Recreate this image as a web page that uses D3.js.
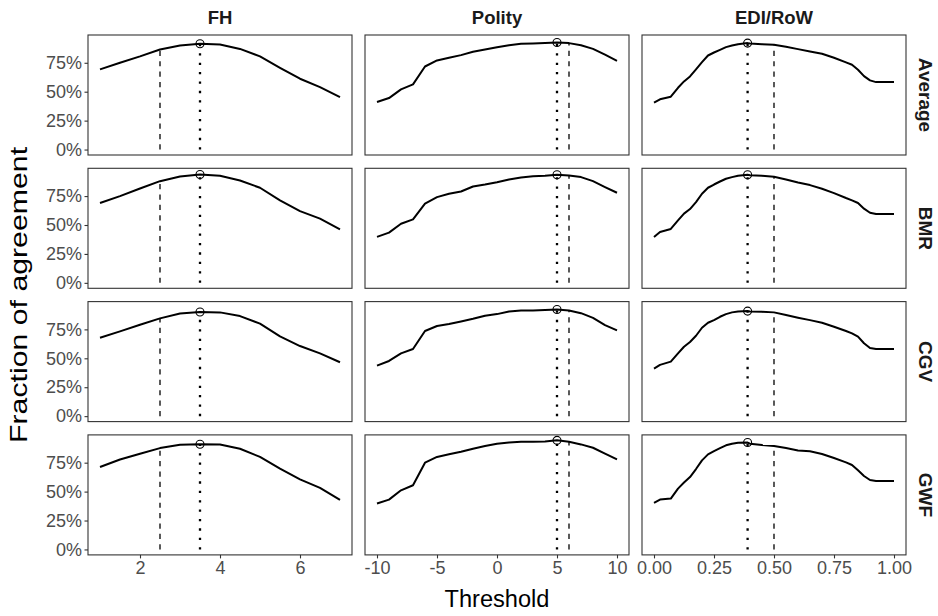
<!DOCTYPE html>
<html>
<head>
<meta charset="utf-8">
<script src="https://cdn.jsdelivr.net/npm/d3@7/dist/d3.min.js"></script>
<style>
  html, body { margin: 0; padding: 0; background: #fff; }
  svg { display: block; font-family: "Liberation Sans", Arial, Helvetica, sans-serif; }
</style>
</head>
<body>
<svg id="chart" width="938" height="616"></svg>
<script>
// Facet labels
const measures = ["FH", "Polity", "EDI/RoW"];
const datasets = ["Average", "BMR", "CGV", "GWF"];

// Thresholds evaluated for each measure
const fhThresholds = [1, 1.5, 2, 2.5, 3, 3.5, 4, 4.5, 5, 5.5, 6, 6.5, 7];
const polityThresholds = [-10, -9, -8, -7, -6, -5, -4, -3, -2, -1, 0, 1, 2, 3, 4, 5, 6, 7, 8, 9, 10];
const ediThresholds = [0, 0.025, 0.07, 0.1, 0.125, 0.15, 0.175, 0.2, 0.225, 0.25, 0.275, 0.3, 0.325, 0.35, 0.39,
  0.4, 0.45, 0.5, 0.55, 0.6, 0.65, 0.7, 0.75, 0.8, 0.825, 0.85, 0.875, 0.9, 0.925, 1.0];

// Conventional cut-offs (dashed lines)
const fhCutoff = 2.5;
const polityCutoff = 6;
const ediCutoff = 0.5;

// Fraction of agreement, FH
const fhAverage = [0.693, 0.750, 0.805, 0.865, 0.900, 0.914, 0.908, 0.870, 0.805, 0.707, 0.612, 0.540, 0.454];
const fhBMR     = [0.690, 0.750, 0.816, 0.879, 0.920, 0.937, 0.925, 0.885, 0.822, 0.713, 0.620, 0.555, 0.463];
const fhCGV     = [0.678, 0.733, 0.790, 0.845, 0.888, 0.900, 0.897, 0.865, 0.800, 0.690, 0.606, 0.543, 0.466];
const fhGWF     = [0.713, 0.778, 0.827, 0.876, 0.905, 0.909, 0.908, 0.870, 0.800, 0.698, 0.606, 0.532, 0.428];

// Fraction of agreement, Polity
const polityAverage = [0.411, 0.445, 0.520, 0.563, 0.718, 0.770, 0.793, 0.816, 0.845, 0.865, 0.885,
  0.902, 0.914, 0.917, 0.920, 0.925, 0.920, 0.902, 0.870, 0.820, 0.767];
const polityBMR = [0.397, 0.434, 0.511, 0.549, 0.684, 0.741, 0.770, 0.790, 0.833, 0.850, 0.870,
  0.894, 0.910, 0.922, 0.925, 0.934, 0.928, 0.914, 0.879, 0.828, 0.779];
const polityCGV = [0.437, 0.477, 0.543, 0.580, 0.736, 0.779, 0.796, 0.819, 0.842, 0.868, 0.882,
  0.905, 0.914, 0.914, 0.917, 0.922, 0.914, 0.890, 0.850, 0.787, 0.741];
const polityGWF = [0.397, 0.431, 0.511, 0.555, 0.750, 0.800, 0.822, 0.845, 0.871, 0.894, 0.914,
  0.925, 0.931, 0.931, 0.934, 0.943, 0.931, 0.908, 0.879, 0.828, 0.779];

// Fraction of agreement, EDI/RoW
const ediAverage = [0.405, 0.434, 0.457, 0.534, 0.589, 0.632, 0.693, 0.756, 0.813, 0.839, 0.862, 0.885, 0.900,
  0.911, 0.920, 0.917, 0.911, 0.905, 0.888, 0.868, 0.848, 0.828, 0.793, 0.753, 0.733, 0.690, 0.635, 0.598, 0.583, 0.583];
const ediBMR = [0.397, 0.440, 0.466, 0.540, 0.598, 0.638, 0.698, 0.770, 0.822, 0.850, 0.876, 0.900, 0.914,
  0.925, 0.934, 0.931, 0.925, 0.917, 0.894, 0.868, 0.845, 0.813, 0.776, 0.733, 0.713, 0.690, 0.641, 0.606, 0.595, 0.595];
const ediCGV = [0.411, 0.443, 0.471, 0.543, 0.600, 0.641, 0.695, 0.764, 0.807, 0.830, 0.859, 0.882, 0.897,
  0.905, 0.908, 0.905, 0.902, 0.897, 0.874, 0.851, 0.830, 0.807, 0.773, 0.736, 0.716, 0.687, 0.630, 0.589, 0.580, 0.580];
const ediGWF = [0.402, 0.431, 0.440, 0.526, 0.578, 0.626, 0.695, 0.770, 0.822, 0.850, 0.876, 0.900, 0.914,
  0.922, 0.924, 0.914, 0.902, 0.894, 0.876, 0.856, 0.848, 0.825, 0.790, 0.753, 0.730, 0.684, 0.635, 0.600, 0.592, 0.592];

// Tick labels use a plain hyphen for negatives
const intFmt = d => String(d);
const twoDp = d => d.toFixed(2);

// Per-column setup
const columns = [
  { label: measures[0], x: fhThresholds, cutoff: fhCutoff, ticks: [2, 4, 6], fmt: intFmt,
    series: [fhAverage, fhBMR, fhCGV, fhGWF] },
  { label: measures[1], x: polityThresholds, cutoff: polityCutoff, ticks: [-10, -5, 0, 5, 10], fmt: intFmt,
    series: [polityAverage, polityBMR, polityCGV, polityGWF] },
  { label: measures[2], x: ediThresholds, cutoff: ediCutoff, ticks: [0, 0.25, 0.5, 0.75, 1], fmt: twoDp,
    series: [ediAverage, ediBMR, ediCGV, ediGWF] }
];
const yTicks = [0, 0.25, 0.5, 0.75];

// Layout
const plotLeft = 88, plotTop = 35, panelW = 264, panelH = 120, gapX = 13, gapY = 13.3;
const svg = d3.select("#chart");

// Shared y scale (fixed across facets), with 5% padding
const allY = columns.flatMap(c => c.series.flat());
const yMax = d3.max(allY), yMin = 0;
const yPad = (yMax - yMin) * 0.05;
const y = d3.scaleLinear().domain([yMin - yPad, yMax + yPad]).range([panelH, 0]);

const ink = "#333333";
const fontStack = "Liberation Sans, Arial, sans-serif";

columns.forEach((col, ci) => {
  const ext = d3.extent(col.x);
  const xPad = (ext[1] - ext[0]) * 0.05;
  const x = d3.scaleLinear().domain([ext[0] - xPad, ext[1] + xPad]).range([0, panelW]);
  const px = plotLeft + ci * (panelW + gapX);

  // Column strip
  svg.append("text")
    .attr("x", px + panelW / 2).attr("y", 23.5)
    .attr("text-anchor", "middle")
    .attr("font-size", 18.5).attr("font-weight", "bold").attr("fill", "#1A1A1A")
    .text(col.label);

  col.series.forEach((vals, ri) => {
    const py = plotTop + ri * (panelH + gapY);
    const g = svg.append("g").attr("transform", `translate(${px},${py})`);
    const pts = col.x.map((t, i) => ({ t, v: vals[i] }));
    const best = pts[d3.maxIndex(pts, d => d.v)];
    const cutIdx = col.x.indexOf(col.cutoff);
    const cutVal = vals[cutIdx];

    g.append("rect").attr("width", panelW).attr("height", panelH).attr("fill", "#fff");

    // Cut-off (dashed) and optimum (dotted) markers
    g.append("line")
      .attr("x1", x(col.cutoff)).attr("x2", x(col.cutoff))
      .attr("y1", y(0)).attr("y2", y(cutVal))
      .attr("stroke", "#000").attr("stroke-width", 1.3)
      .attr("stroke-dasharray", "5.2,5.2");
    g.append("line")
      .attr("x1", x(best.t)).attr("x2", x(best.t))
      .attr("y1", y(0)).attr("y2", y(best.v))
      .attr("stroke", "#000").attr("stroke-width", 2.3)
      .attr("stroke-dasharray", "2.3,7.1");

    // Agreement curve
    g.append("path")
      .datum(pts)
      .attr("fill", "none").attr("stroke", "#000").attr("stroke-width", 2)
      .attr("stroke-linejoin", "round")
      .attr("d", d3.line().x(d => x(d.t)).y(d => y(d.v)));

    // Optimum point
    g.append("circle")
      .attr("cx", x(best.t)).attr("cy", y(best.v)).attr("r", 4)
      .attr("fill", "none").attr("stroke", "#000").attr("stroke-width", 1.1);

    // Panel border
    g.append("rect").attr("width", panelW).attr("height", panelH)
      .attr("fill", "none").attr("stroke", ink).attr("stroke-width", 1.1);

    // Y axis on first column
    if (ci === 0) {
      const ya = g.append("g").call(d3.axisLeft(y).tickValues(yTicks).tickSize(3.5).tickPadding(2.5)
        .tickFormat(d => Math.round(d * 100) + "%"));
      ya.select(".domain").remove();
      ya.selectAll(".tick line").attr("stroke", ink).attr("stroke-width", 1.1);
      ya.selectAll(".tick text").attr("fill", "#4D4D4D").attr("font-size", 18)
        .attr("font-family", fontStack);
    }
    // X axis on bottom row
    if (ri === datasets.length - 1) {
      const xa = g.append("g").attr("transform", `translate(0,${panelH})`)
        .call(d3.axisBottom(x).tickValues(col.ticks).tickSize(3.5).tickPadding(3).tickFormat(col.fmt));
      xa.select(".domain").remove();
      xa.selectAll(".tick line").attr("stroke", ink).attr("stroke-width", 1.1);
      xa.selectAll(".tick text").attr("fill", "#4D4D4D").attr("font-size", 18)
        .attr("font-family", fontStack);
    }
    // Row strip on last column
    if (ci === columns.length - 1) {
      svg.append("text")
        .attr("transform", `translate(${px + panelW + 19},${py + panelH / 2}) rotate(90)`)
        .attr("text-anchor", "middle").attr("dominant-baseline", "central")
        .attr("font-size", 19).attr("font-weight", "bold").attr("fill", "#1A1A1A")
        .text(datasets[ri]);
    }
  });
});

// Axis titles
const plotMidX = plotLeft + (3 * panelW + 2 * gapX) / 2;
const plotMidY = plotTop + (4 * panelH + 3 * gapY) / 2;
svg.append("text")
  .attr("x", plotMidX).attr("y", 607)
  .attr("text-anchor", "middle").attr("font-size", 23).attr("fill", "#000")
  .attr("textLength", 105).attr("lengthAdjust", "spacingAndGlyphs")
  .text("Threshold");
svg.append("text")
  .attr("transform", `translate(18,${plotMidY}) rotate(-90)`)
  .attr("text-anchor", "middle").attr("dominant-baseline", "central")
  .attr("font-size", 24).attr("fill", "#000")
  .attr("textLength", 296).attr("lengthAdjust", "spacingAndGlyphs")
  .text("Fraction of agreement");
</script>
</body>
</html>
